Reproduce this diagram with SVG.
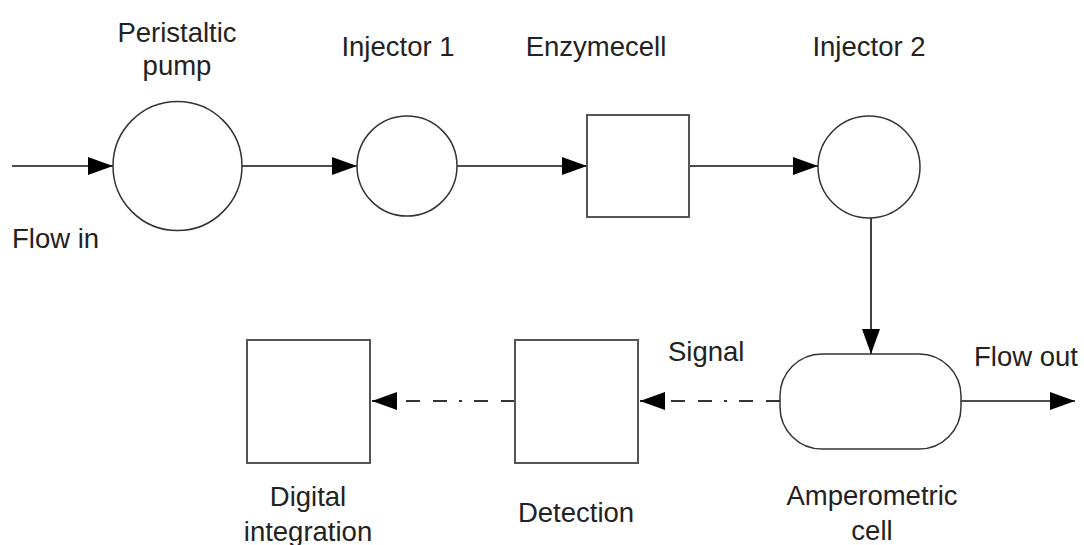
<svg xmlns="http://www.w3.org/2000/svg" width="1084" height="545" viewBox="0 0 1084 545">
<style>
.shape{fill:#fff;stroke:#333;stroke-width:1.5}
.box{fill:#fff;stroke:#555;stroke-width:2}
.line{fill:none;stroke:#111;stroke-width:1.6}
.dash{fill:none;stroke:#333;stroke-width:2;stroke-dasharray:14 13 14 12 3 12}
text{font-family:"Liberation Sans",Arial,sans-serif;font-size:27.5px;fill:#222}
.c{text-anchor:middle}
</style>
<defs>
<marker id="ah" markerUnits="userSpaceOnUse" markerWidth="26" markerHeight="18" refX="25" refY="9" orient="auto">
<path d="M0,0 L25,9 L0,18 Z" fill="#000"/>
</marker>
</defs>
<g id="connectors">
<line class="line" x1="12" y1="166" x2="113" y2="166" marker-end="url(#ah)"/>
<line class="line" x1="242" y1="166" x2="357" y2="166" marker-end="url(#ah)"/>
<line class="line" x1="457" y1="166" x2="587" y2="166" marker-end="url(#ah)"/>
<line class="line" x1="689" y1="166" x2="818" y2="166" marker-end="url(#ah)"/>
<line class="line" x1="871" y1="218" x2="871" y2="354" marker-end="url(#ah)"/>
<line class="line" x1="961" y1="401" x2="1075" y2="401" marker-end="url(#ah)"/>
<line class="dash" x1="780" y1="401" x2="640" y2="401" marker-end="url(#ah)"/>
<line class="dash" x1="515" y1="401" x2="372" y2="401" marker-end="url(#ah)"/>
</g>
<g id="flow-in"><text x="12" y="248">Flow in</text></g>
<g id="pump">
<circle class="shape" cx="177.5" cy="166" r="64.5"/>
<text class="c" x="177" y="42">Peristaltic</text>
<text class="c" x="177" y="75">pump</text>
</g>
<g id="injector1">
<circle class="shape" cx="407" cy="166" r="50"/>
<text class="c" x="398" y="56">Injector 1</text>
</g>
<g id="enzymecell">
<rect class="box" x="587" y="115" width="102" height="102"/>
<text class="c" x="596" y="56">Enzymecell</text>
</g>
<g id="injector2">
<circle class="shape" cx="869" cy="167" r="51"/>
<text class="c" x="869" y="56">Injector 2</text>
</g>
<g id="amperometric">
<rect class="shape" x="780" y="354" width="181" height="95" rx="42" ry="42"/>
<text class="c" x="872" y="505">Amperometric</text>
<text class="c" x="872" y="540">cell</text>
</g>
<g id="flow-out"><text x="974" y="366">Flow out</text></g>
<g id="signal"><text x="668" y="361">Signal</text></g>
<g id="detection">
<rect class="box" x="515" y="340" width="123" height="123"/>
<text class="c" x="576" y="522">Detection</text>
</g>
<g id="digital">
<rect class="box" x="247" y="340" width="123" height="123"/>
<text class="c" x="308" y="506">Digital</text>
<text class="c" x="308" y="541">integration</text>
</g>
</svg>
